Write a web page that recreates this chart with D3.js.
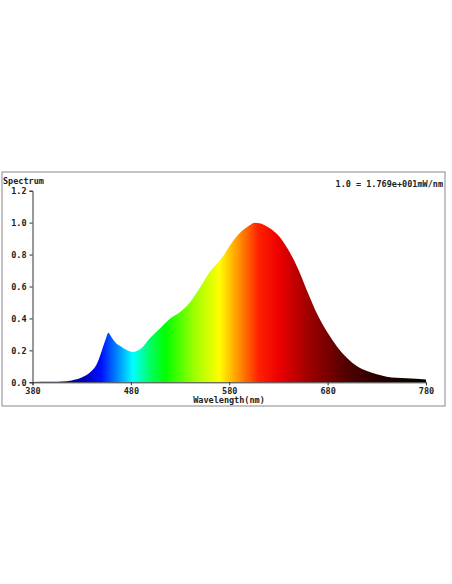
<!DOCTYPE html>
<html><head><meta charset="utf-8">
<script src="https://cdn.jsdelivr.net/npm/d3@7"></script>
<style>body{margin:0;background:#fff}text{font-family:"DejaVu Sans Mono",monospace;font-weight:bold;fill:#222}</style>
</head><body><svg id="c" width="452" height="584"></svg>
<script>
const wavelengths = [380,400,410,420,430,440,445,450,455,457,460,465,470,475,482,490,500,510,520,530,540,550,560,570,575,580,590,600,606,612,620,630,640,650,660,670,680,690,700,710,720,730,740,760,780];
const values      = [0.002,0.003,0.005,0.012,0.03,0.07,0.11,0.19,0.28,0.31,0.285,0.245,0.225,0.205,0.19,0.21,0.28,0.34,0.40,0.44,0.50,0.59,0.69,0.76,0.80,0.85,0.93,0.98,1.0,0.995,0.97,0.92,0.83,0.71,0.56,0.42,0.31,0.22,0.15,0.10,0.07,0.05,0.035,0.025,0.018];
const colorStops = [[380,"#000060"],[430,"#0000b0"],[450,"#0010ff"],[465,"#0080ff"],[482,"#00ffff"],[500,"#00ff60"],[515,"#00ff00"],[545,"#a0ff00"],[570,"#ffff00"],[590,"#ff9000"],[610,"#ff2000"],[630,"#ee0000"],[660,"#a00000"],[700,"#500000"],[740,"#200000"],[780,"#080000"]];
const xTicks = [380,480,580,680,780];
const yTicks = [0,0.2,0.4,0.6,0.8,1.0,1.2];

const svg = d3.select("#c");
const x = d3.scaleLinear().domain([380,780]).range([32.5,426]);
const y = d3.scaleLinear().domain([0,1.2]).range([382.3,190.7]);

svg.append("rect").attr("x",2).attr("y",172).attr("width",443).attr("height",234)
  .attr("fill","none").attr("stroke","#888").attr("stroke-width",1);

const grad = svg.append("defs").append("linearGradient").attr("id","spec")
  .attr("gradientUnits","userSpaceOnUse").attr("x1",x(380)).attr("x2",x(780)).attr("y1",0).attr("y2",0);
grad.selectAll("stop").data(colorStops).join("stop")
  .attr("offset",d=>(d[0]-380)/400).attr("stop-color",d=>d[1]);

const pts = wavelengths.map((w,i)=>[w,values[i]]);
svg.append("path").datum(pts).attr("fill","url(#spec)")
  .attr("d",d3.area().x(d=>x(d[0])).y0(y(0)).y1(d=>y(d[1])).curve(d3.curveMonotoneX));

const xa = svg.append("g").attr("transform",`translate(0,${y(0)})`)
  .call(d3.axisBottom(x).tickValues(xTicks).tickFormat(d3.format("d")).tickSize(3));
const ya = svg.append("g").attr("transform",`translate(${x(380)},0)`)
  .call(d3.axisLeft(y).tickValues(yTicks).tickFormat(d3.format(".1f")).tickSize(3));
[xa,ya].forEach(a=>{a.selectAll("path,line").attr("stroke","#333");a.selectAll("text").attr("font-size",8.5);});

svg.append("text").attr("x",3).attr("y",184).attr("font-size",8.5).text("Spectrum");
svg.append("text").attr("x",443).attr("y",187).attr("text-anchor","end").attr("font-size",8.5).text("1.0 = 1.769e+001mW/nm");
svg.append("text").attr("x",229).attr("y",403).attr("text-anchor","middle").attr("font-size",8.5).text("Wavelength(nm)");
</script></body></html>
